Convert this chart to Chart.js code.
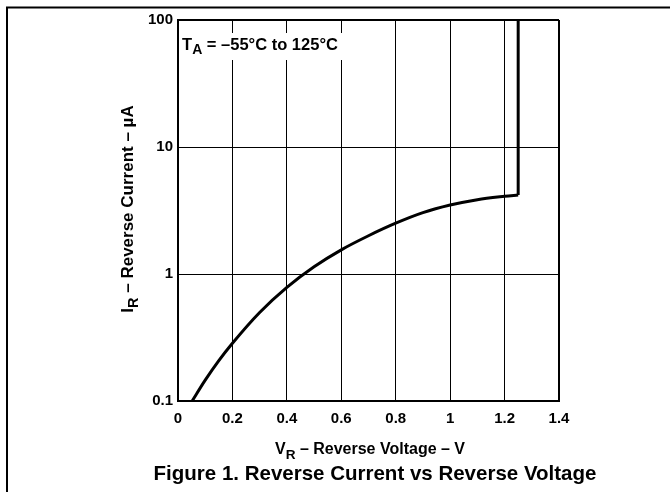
<!DOCTYPE html>
<html>
<head>
<meta charset="utf-8">
<script src="https://cdn.jsdelivr.net/npm/chart.js@4"></script>
<style>
  html, body { margin: 0; padding: 0; background: #fff; }
  #wrap { width: 670px; height: 492px; }
</style>
</head>
<body>
<div id="wrap"><canvas id="myChart" width="670" height="492"></canvas></div>
<script>
// values
const voltage = [0.052, 0.1, 0.15, 0.2, 0.3, 0.4, 0.5, 0.6, 0.7, 0.8, 0.9, 1.0, 1.1, 1.2, 1.25, 1.25];
const current = [0.1, 0.146, 0.208, 0.285, 0.498, 0.785, 1.14, 1.55, 2.0, 2.51, 3.04, 3.49, 3.85, 4.09, 4.19, 100];
const xTicks = [0, 0.2, 0.4, 0.6, 0.8, 1, 1.2, 1.4];
const yTicks = [0.1, 1, 10, 100];
const noteText = [{t: 'T'}, {t: 'A', sub: true}, {t: ' = –55°C to 125°C'}];
const xTitle = [{t: 'V'}, {t: 'R', sub: true}, {t: ' – Reverse Voltage – V'}];
const yTitle = [{t: 'I'}, {t: 'R', sub: true}, {t: ' – Reverse Current – µA'}];
const caption = 'Figure 1. Reverse Current vs Reverse Voltage';

const FONT = '"Liberation Sans", Arial, sans-serif';

// draws text with subscript parts, centred on x
function richText(ctx, parts, x, y, size) {
  let total = 0;
  parts.forEach(p => {
    ctx.font = 'bold ' + (p.sub ? size * 0.85 : size) + 'px ' + FONT;
    p.w = ctx.measureText(p.t).width;
    total += p.w;
  });
  let cx = x - total / 2;
  ctx.textAlign = 'left';
  ctx.textBaseline = 'alphabetic';
  parts.forEach(p => {
    ctx.font = 'bold ' + (p.sub ? size * 0.85 : size) + 'px ' + FONT;
    ctx.fillText(p.t, cx, p.sub ? y + size * 0.3 : y);
    cx += p.w;
  });
  return total;
}

const extras = {
  id: 'extras',
  afterDraw(chart) {
    const ctx = chart.ctx;
    const a = chart.chartArea;
    ctx.save();
    ctx.fillStyle = '#000';
    ctx.strokeStyle = '#000';

    // page frame
    ctx.lineWidth = 2;
    ctx.beginPath();
    ctx.moveTo(7, 492);
    ctx.lineTo(7, 7.5);
    ctx.lineTo(670, 7.5);
    ctx.stroke();

    // note inside the plot, on a white patch
    ctx.fillStyle = '#fff';
    ctx.fillRect(a.left + 2, 33, 167, 27);
    ctx.fillStyle = '#000';
    richText(ctx, noteText, 260, 49.5, 16.5);

    // axis titles and caption
    richText(ctx, xTitle, 370, 454, 16);
    ctx.save();
    ctx.translate(133, 209);
    ctx.rotate(-Math.PI / 2);
    richText(ctx, yTitle, 0, 0, 17);
    ctx.restore();

    ctx.font = 'bold 20.5px ' + FONT;
    ctx.textAlign = 'center';
    ctx.fillText(caption, 375, 480);
    ctx.restore();
  }
};

const ctx = document.getElementById('myChart');
const pts = voltage.map((v, i) => ({x: v, y: current[i]}));

new Chart(ctx, {
  type: 'scatter',
  data: {
    datasets: [
      {
        // smooth part of the curve
        data: pts.slice(0, -1),
        showLine: true,
        borderColor: '#000',
        borderWidth: 3,
        pointRadius: 0,
        cubicInterpolationMode: 'monotone'
      },
      {
        // breakdown jump
        data: pts.slice(-2),
        showLine: true,
        borderColor: '#000',
        borderWidth: 3,
        pointRadius: 0,
        tension: 0
      }
    ]
  },
  options: {
    responsive: false,
    animation: false,
    layout: { padding: { top: 20, right: 111, left: 0, bottom: 0 } },
    plugins: { legend: { display: false }, tooltip: { enabled: false } },
    scales: {
      x: {
        type: 'linear',
        min: 0,
        max: 1.4,
        afterBuildTicks: s => { s.ticks = xTicks.map(v => ({value: v})); },
        afterFit: s => { s.height = 91; },
        grid: {
          color: '#000',
          lineWidth: c => (c.index === xTicks.length - 1 ? 2 : 1),
          drawTicks: false
        },
        border: { color: '#000', width: 2 },
        ticks: {
          color: '#000',
          padding: 9,
          maxRotation: 0,
          font: { family: FONT, size: 15, weight: 'bold' },
          callback: v => String(v)
        }
      },
      y: {
        type: 'logarithmic',
        min: 0.1,
        max: 100,
        afterBuildTicks: s => { s.ticks = yTicks.map(v => ({value: v})); },
        afterFit: s => { s.width = 178; },
        grid: {
          color: '#000',
          lineWidth: c => (c.index === yTicks.length - 1 ? 2 : 1),
          drawTicks: false
        },
        border: { color: '#000', width: 2 },
        ticks: {
          color: '#000',
          padding: 5,
          font: { family: FONT, size: 15, weight: 'bold' },
          callback: v => String(v)
        }
      }
    }
  },
  plugins: [extras]
});
</script>
</body>
</html>
